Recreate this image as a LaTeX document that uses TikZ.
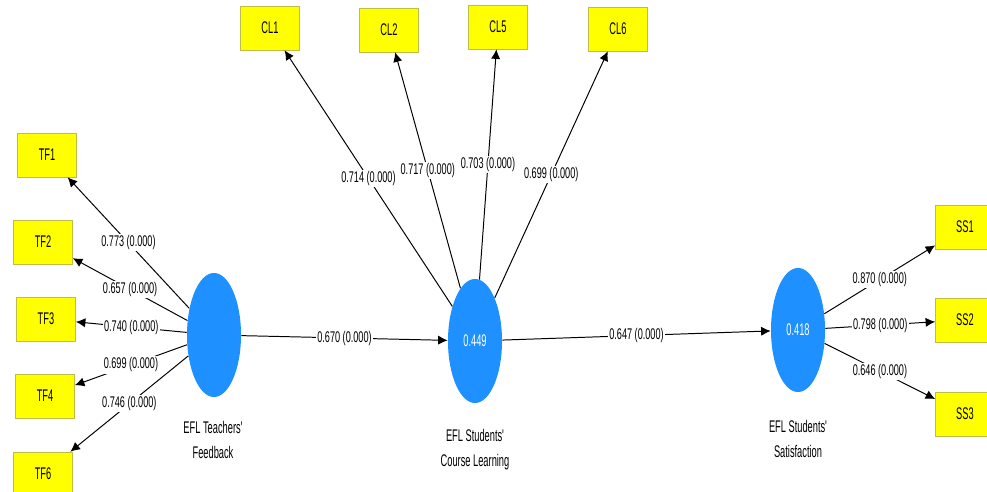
\documentclass[tikz,border=0pt]{standalone}
\usepackage{fontspec}
\usetikzlibrary{arrows.meta,shapes.geometric}
\newfontfamily\plsfont[FakeStretch=0.55]{Liberation Sans}
\newfontfamily\loadfont[FakeStretch=0.59]{Liberation Sans}
\definecolor{lvblue}{RGB}{30,144,255}
\definecolor{itemyellow}{RGB}{255,255,0}
\definecolor{itemborder}{RGB}{190,190,70}

\tikzset{
  item/.style={draw=itemborder, fill=itemyellow, minimum width=1.475cm, minimum height=1.1cm,
    inner sep=0pt, font=\plsfont\fontsize{12}{14}\selectfont},
  latent/.style={ellipse, fill=lvblue, minimum width=1.35cm, minimum height=3.1cm,
    inner sep=0pt, text=white, font=\plsfont\fontsize{12}{14}\selectfont},
  cname/.style={align=center, font=\plsfont\fontsize{12}{17.8}\selectfont},
  load/.style={-{Latex[length=2.4mm,width=2.3mm]}, line width=0.7pt},
  coef/.style={fill=white, inner sep=1pt, font=\loadfont\fontsize{11}{13}\selectfont}
}

\begin{document}
\begin{tikzpicture}[x=0.025cm, y=-0.025cm]
  \clip (0,0) rectangle (987,492);

  % constructs
  \node[latent] (tf) at (214,335) {};
  \node[latent] (cl) at (475,341) {0.449};
  \node[latent] (ss) at (798,330) {0.418};
  \node[cname] (tfname) at (213,440) {EFL Teachers'\\Feedback};
  \node[cname] (clname) at (475,450) {EFL Students'\\Course Learning};
  \node[cname] (ssname) at (798,439) {EFL Students'\\Satisfaction};

  % indicators
  \node[item] (tf1) at (47,155) {TF1};
  \node[item] (tf2) at (43,242) {TF2};
  \node[item] (tf3) at (46,319) {TF3};
  \node[item] (tf4) at (45,396) {TF4};
  \node[item] (tf6) at (43,474) {TF6};
  \node[item] (cl1) at (270,28) {CL1};
  \node[item] (cl2) at (389,30) {CL2};
  \node[item] (cl5) at (498,27) {CL5};
  \node[item] (cl6) at (618,29) {CL6};
  \node[item] (ss1) at (965,227) {SS1};
  \node[item] (ss2) at (965,320) {SS2};
  \node[item] (ss3) at (965,414) {SS3};

  % outer loadings
  \foreach \i/\ld in {1/0.773, 2/0.657, 3/0.740, 4/0.699, 6/0.746}
    \draw[load] (tf) -- node[coef] {\ld{} (0.000)} (tf\i);
  \foreach \i/\ld in {1/0.714, 2/0.717, 5/0.703, 6/0.699}
    \draw[load] (cl) -- node[coef] {\ld{} (0.000)} (cl\i);
  \foreach \i/\ld in {1/0.870, 2/0.798, 3/0.646}
    \draw[load] (ss) -- node[coef] {\ld{} (0.000)} (ss\i);

  % paths
  \draw[load] (tf) -- node[coef] {0.670 (0.000)} (cl);
  \draw[load] (cl) -- node[coef] {0.647 (0.000)} (ss);
\end{tikzpicture}
\end{document}
